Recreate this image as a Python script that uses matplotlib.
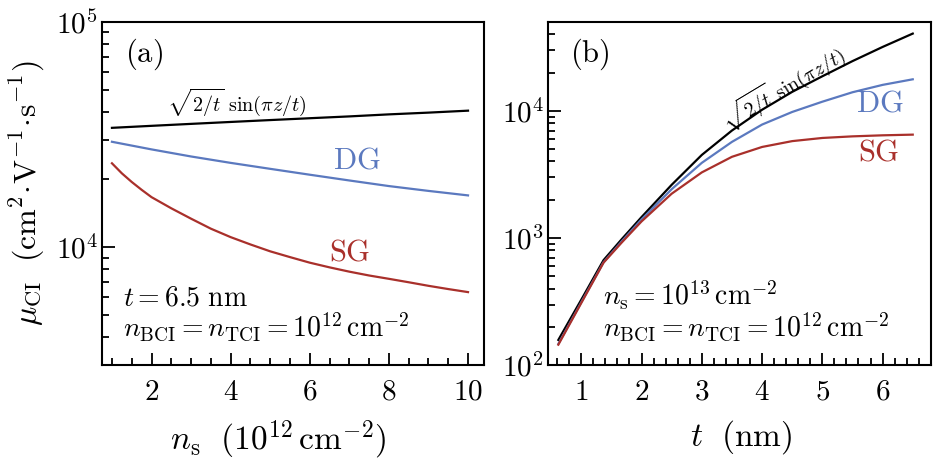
import numpy as np
import matplotlib
matplotlib.use("Agg")
import matplotlib.pyplot as plt
from matplotlib.ticker import MultipleLocator, LogLocator, FuncFormatter, NullFormatter

plt.rcParams['mathtext.fontset'] = 'cm'
plt.rcParams['font.family'] = 'DejaVu Serif'

# panel (a): mobility vs sheet density, t = 6.5 nm
ns = [1, 2, 3, 4, 5, 6, 7, 8, 9, 10]
mu_a_sin = [33900, 34600, 35300, 36000, 36700, 37400, 38100, 38900, 39600, 40400]
mu_a_dg = [29400, 27200, 25300, 23700, 22300, 21000, 19800, 18700, 17800, 17000]
ns_sg = [1.0, 1.25, 1.5, 1.75, 2.0, 2.5, 3.0, 3.5, 4.0, 4.5, 5.0, 5.5, 6.0, 6.5,
         7.0, 7.5, 8.0, 8.5, 9.0, 9.5, 10.0]
mu_a_sg = [23600, 21300, 19500, 18000, 16700, 14900, 13400, 12100, 11100, 10300, 9600,
           9050, 8550, 8150, 7800, 7500, 7250, 7000, 6750, 6530, 6330]

# panel (b): mobility vs thickness, ns = 1e13
t = [0.62, 1.0, 1.37, 1.67, 2.0, 2.5, 3.0, 3.5, 4.0, 4.5, 5.0, 5.5, 6.0, 6.5]
mu_b_sin = [158, 327, 670, 977, 1460, 2620, 4500, 7000, 10200, 14100, 18700, 24600, 31800, 40500]
mu_b_dg = [147, 312, 645, 940, 1400, 2420, 3900, 5700, 7800, 9800, 11800, 14000, 16000, 17700]
mu_b_sg = [145, 308, 640, 920, 1350, 2230, 3280, 4350, 5200, 5780, 6120, 6300, 6420, 6500]

black = 'black'
blue = '#5b79bf'
red = '#a9302b'
lw = 1.6

fig = plt.figure(figsize=(9.45, 4.67), dpi=100)
axa = fig.add_axes([0.108, 0.218, 0.404, 0.735])
axb = fig.add_axes([0.580, 0.218, 0.405, 0.735])

num_fmt = FuncFormatter(lambda v, p: f"${v:g}$")
pow_fmt = FuncFormatter(lambda v, p: f"$10^{{{int(round(np.log10(v)))}}}$")

for ax in (axa, axb):
    ax.set_yscale('log')
    for s in ax.spines.values():
        s.set_linewidth(1.5)
    ax.tick_params(which='both', direction='in', top=False, right=False, width=1.3,
                   labelsize=21)
    ax.tick_params(which='major', length=9)
    ax.tick_params(which='minor', length=5)
    ax.tick_params(axis='x', which='both', pad=9)
    ax.tick_params(axis='y', which='both', pad=3)
    ax.yaxis.set_major_locator(LogLocator(base=10, numticks=10))
    ax.yaxis.set_minor_locator(LogLocator(base=10, subs=np.arange(2, 10), numticks=10))
    ax.yaxis.set_major_formatter(pow_fmt)
    ax.yaxis.set_minor_formatter(NullFormatter())
    ax.xaxis.set_major_formatter(num_fmt)

# (a)
axa.plot(ns, mu_a_sin, color=black, lw=lw)
axa.plot(ns, mu_a_dg, color=blue, lw=lw)
axa.plot(ns_sg, mu_a_sg, color=red, lw=lw)
axa.set_xlim(0.75, 10.4)
axa.set_ylim(3000, 1e5)
axa.xaxis.set_major_locator(MultipleLocator(2))
axa.xaxis.set_minor_locator(MultipleLocator(0.5))
axa.set_xlabel(r"$n_{\mathrm{s}}\ \ (10^{12}\,\mathrm{cm}^{-2})$", fontsize=24)
axa.xaxis.set_label_coords(0.463, -0.155)
axa.set_ylabel(r"$\mu_{\mathrm{CI}}\ \ (\mathrm{cm}^2\!\cdot\!\mathrm{V}^{-1}\!\cdot\!\mathrm{s}^{-1})$",
               fontsize=23)
axa.yaxis.set_label_coords(-0.145, 0.5)

axa.text(0.06, 0.905, r"$\mathrm{(a)}$", transform=axa.transAxes, fontsize=22, va='center')
axa.text(0.17, 0.765, r"$\sqrt{2/t}\ \sin(\pi z/t)$", transform=axa.transAxes, fontsize=14.5, va='center')
axa.text(0.605, 0.598, r"$\mathrm{DG}$", transform=axa.transAxes, fontsize=22, va='center', color=blue)
axa.text(0.594, 0.33, r"$\mathrm{SG}$", transform=axa.transAxes, fontsize=22, va='center', color=red)
axa.text(0.055, 0.195, r"$t = 6.5\ \mathrm{nm}$", transform=axa.transAxes, fontsize=20, va='center')
axa.text(0.055, 0.112, r"$n_{\mathrm{BCI}} = n_{\mathrm{TCI}} = 10^{12}\,\mathrm{cm}^{-2}$",
         transform=axa.transAxes, fontsize=20, va='center')

# (b)
axb.plot(t, mu_b_sin, color=black, lw=lw)
axb.plot(t, mu_b_dg, color=blue, lw=lw)
axb.plot(t, mu_b_sg, color=red, lw=lw)
axb.set_xlim(0.45, 6.8)
axb.set_ylim(100, 5e4)
axb.xaxis.set_major_locator(MultipleLocator(1))
axb.xaxis.set_minor_locator(MultipleLocator(0.2))
axb.set_xlabel(r"$t\ \ (\mathrm{nm})$", fontsize=24)
axb.xaxis.set_label_coords(0.504, -0.155)

axb.text(0.056, 0.905, r"$\mathrm{(b)}$", transform=axb.transAxes, fontsize=22, va='center')
axb.text(0.614, 0.808, r"$\sqrt{2/t}\ \sin(\pi z/t)$", transform=axb.transAxes, fontsize=14.5,
         va='center', ha='center', rotation=31)
axb.text(0.804, 0.764, r"$\mathrm{DG}$", transform=axb.transAxes, fontsize=22, va='center', color=blue)
axb.text(0.81, 0.621, r"$\mathrm{SG}$", transform=axb.transAxes, fontsize=22, va='center', color=red)
axb.text(0.144, 0.205, r"$n_{\mathrm{s}} = 10^{13}\,\mathrm{cm}^{-2}$", transform=axb.transAxes,
         fontsize=20, va='center')
axb.text(0.144, 0.112, r"$n_{\mathrm{BCI}} = n_{\mathrm{TCI}} = 10^{12}\,\mathrm{cm}^{-2}$",
         transform=axb.transAxes, fontsize=20, va='center')

fig.savefig("out.png", dpi=100)
